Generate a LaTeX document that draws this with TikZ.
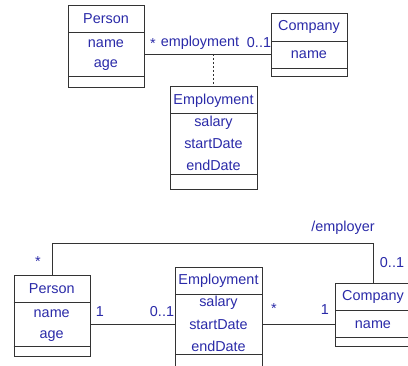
\documentclass[tikz,border=0pt]{standalone}
\usepackage{fontspec}
\setmainfont{Liberation Sans}
\definecolor{umltext}{HTML}{2A2AA8}
\definecolor{umlline}{HTML}{333333}
\begin{document}
\begin{tikzpicture}[x=1pt,y=1pt,
  box/.style={draw=umlline, line width=0.9pt, rectangle, inner sep=0pt, anchor=north west},
  lbl/.style={text=umltext, font=\fontsize{14.4}{17}\selectfont, inner sep=0pt},
  conn/.style={draw=umlline, line width=0.9pt},
  divider/.style={draw=umlline, line width=0.9pt}]
\useasboundingbox (0,0) rectangle (408,366);
\clip (0,0) rectangle (408,366);
% ---------- top diagram ----------
\node[box, minimum width=76pt, minimum height=82.3pt] (p1) at (68,361.3) {};
\draw[divider] (p1.west |- 0,334) -- (p1.east |- 0,334);
\draw[divider] (p1.west |- 0,290) -- (p1.east |- 0,290);
\node[lbl] (p1n) at (106,347) {Person};
\node[lbl] (p1a) at (106,322) {name};
\node[lbl] (p1b) at (106,301) {age};

\node[box, minimum width=76pt, minimum height=63pt] (c1) at (271,353) {};
\draw[divider] (c1.west |- 0,325) -- (c1.east |- 0,325);
\draw[divider] (c1.west |- 0,298) -- (c1.east |- 0,298);
\node[lbl] (c1n) at (309,339) {Company};
\node[lbl] (c1a) at (309,311) {name};

\node[box, minimum width=87pt, minimum height=103pt] (e1) at (170,280) {};
\draw[divider] (e1.west |- 0,253) -- (e1.east |- 0,253);
\draw[divider] (e1.west |- 0,192) -- (e1.east |- 0,192);
\node[lbl] (e1n) at (213.5,265) {Employment};
\node[lbl] (e1a) at (213.5,243) {salary};
\node[lbl] (e1b) at (213.5,222) {startDate};
\node[lbl] (e1c) at (213.5,201) {endDate};

\coordinate (a1) at (213,312);
\draw[conn] (p1.east |- 0,312) -- (c1.west |- 0,312);
\draw[conn, dashed, dash pattern=on 2pt off 2pt] (a1) -- (e1.north -| a1);
\node[lbl] (m1) at (153,322) {*};
\node[lbl] (r1) at (200,323) {employment};
\node[lbl] (m2) at (259,323) {0..1};

% ---------- bottom diagram ----------
\node[box, minimum width=76.5pt, minimum height=81pt] (p2) at (13.5,91) {};
\draw[divider] (p2.west |- 0,64) -- (p2.east |- 0,64);
\draw[divider] (p2.west |- 0,20) -- (p2.east |- 0,20);
\node[lbl] (p2n) at (51.75,77) {Person};
\node[lbl] (p2a) at (51.75,52) {name};
\node[lbl] (p2b) at (51.75,30) {age};

\node[box, minimum width=87pt, minimum height=103pt] (e2) at (175,99) {};
\draw[divider] (e2.west |- 0,72) -- (e2.east |- 0,72);
\draw[divider] (e2.west |- 0,12) -- (e2.east |- 0,12);
\node[lbl] (e2n) at (218.5,85) {Employment};
\node[lbl] (e2a) at (218.5,63) {salary};
\node[lbl] (e2b) at (218.5,41) {startDate};
\node[lbl] (e2c) at (218.5,20) {endDate};

\node[box, minimum width=76pt, minimum height=63pt] (c2) at (335,83) {};
\draw[divider] (c2.west |- 0,56) -- (c2.east |- 0,56);
\draw[divider] (c2.west |- 0,29) -- (c2.east |- 0,29);
\node[lbl] (c2n) at (373,69) {Company};
\node[lbl] (c2a) at (373,41) {name};

\coordinate (k1) at (52,123);
\coordinate (k2) at (373,123);
\draw[conn] (p2.north -| k1) -- (k1) -- (k2) -- (c2.north -| k2);
\draw[conn] (p2.east |- 0,42) -- (e2.west |- 0,42);
\draw[conn] (e2.east |- 0,42) -- (c2.west |- 0,42);

\node[lbl] (emp) at (343,138) {/employer};
\node[lbl] (m3) at (38,104) {*};
\node[lbl] (m4) at (392,103) {0..1};
\node[lbl] (m5) at (100,54) {1};
\node[lbl] (m6) at (162,54) {0..1};
\node[lbl] (m7) at (274,57) {*};
\node[lbl] (m8) at (325,56) {1};
\end{tikzpicture}
\end{document}
